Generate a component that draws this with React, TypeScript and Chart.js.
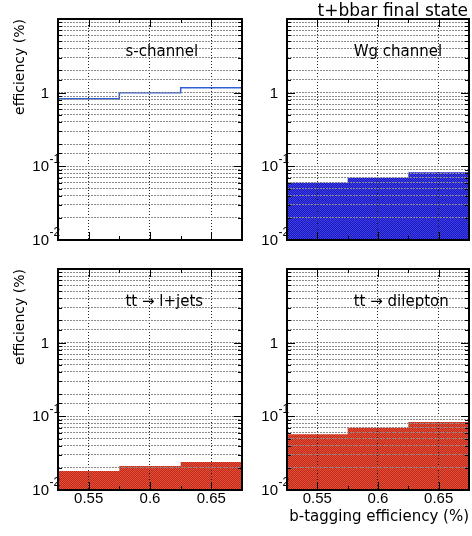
import React, { useEffect, useRef } from 'react';
import { Chart, registerables } from 'chart.js';

Chart.register(...registerables);

// ---- data ----
const binEdges = [0.525, 0.575, 0.625, 0.675];
const xTickValues = [0.55, 0.6, 0.65];
const xTickLabels = ['0.55', '0.6', '0.65'];
const xMinorTickValues = [0.575, 0.625];
const yLabelValues = [0.01, 0.1, 1];
const yLabelBases = ['10', '10', '1'];
const yLabelExponents = ['-2', '-1', ''];
const sChannelValues = [0.83, 1.0, 1.17];
const wgChannelValues = [0.06, 0.07, 0.083];
const lJetsValues = [0.0181, 0.0212, 0.024];
const dileptonValues = [0.057, 0.07, 0.0836];
const panelLabels = ['s-channel', 'Wg channel', 'tt \u2192 l+jets', 'tt \u2192 dilepton'];
const yTitle = 'efficiency (%)';
const xTitle = 'b-tagging efficiency (%)';
const mainTitle = 't+bbar final state';

const Y_MIN = 0.01;
const Y_MAX = 10;
const LABEL_X = 0.58;
const LABEL_Y = 3.5;

type Area = { left: number; top: number; right: number; bottom: number };
type PanelCfg = {
  left: number; top: number; width: number; height: number;
  area: Area;
  values: number[];
  filled: boolean;
  color: string; light: string;
  label: string;
  showYTitle: boolean; showXTicks: boolean; showXTitle: boolean; showMainTitle: boolean;
};

const panels: PanelCfg[] = [
  { left: 0, top: 0, width: 246, height: 262, area: { left: 58, top: 19, right: 242, bottom: 240 },
    values: sChannelValues, filled: false, color: '#2f5fd6', light: '#2f5fd6', label: panelLabels[0],
    showYTitle: true, showXTicks: false, showXTitle: false, showMainTitle: false },
  { left: 246, top: 0, width: 226, height: 262, area: { left: 41, top: 19, right: 223, bottom: 240 },
    values: wgChannelValues, filled: true, color: '#1818c4', light: '#4040e0', label: panelLabels[1],
    showYTitle: false, showXTicks: false, showXTitle: false, showMainTitle: true },
  { left: 0, top: 262, width: 246, height: 274, area: { left: 58, top: 7, right: 242, bottom: 228 },
    values: lJetsValues, filled: true, color: '#c42816', light: '#e0503a', label: panelLabels[2],
    showYTitle: true, showXTicks: true, showXTitle: false, showMainTitle: false },
  { left: 246, top: 262, width: 226, height: 274, area: { left: 41, top: 7, right: 223, bottom: 228 },
    values: dileptonValues, filled: true, color: '#c42816', light: '#e0503a', label: panelLabels[3],
    showYTitle: false, showXTicks: true, showXTitle: true, showMainTitle: false },
];

function makePattern(base: string, light: string): CanvasPattern | string {
  const c = document.createElement('canvas');
  c.width = 2; c.height = 2;
  const g = c.getContext('2d');
  if (!g) return base;
  g.fillStyle = base; g.fillRect(0, 0, 2, 2);
  g.fillStyle = light; g.fillRect(0, 0, 1, 1); g.fillRect(1, 1, 1, 1);
  return g.createPattern(c, 'repeat') || base;
}

function Panel({ cfg }: { cfg: PanelCfg }) {
  const ref = useRef<HTMLCanvasElement | null>(null);
  useEffect(() => {
    const canvas = ref.current;
    if (!canvas) return;
    const a = cfg.area;

    // histogram outline: one point per bin edge, the last edge repeats the last bin value
    const stepData = binEdges.map((e, i) => ({ x: e, y: cfg.values[Math.min(i, cfg.values.length - 1)] }));
    const dataset: any = cfg.filled
      ? {
          data: stepData, stepped: 'before', pointRadius: 0,
          borderWidth: 0, borderColor: cfg.color,
          backgroundColor: makePattern(cfg.color, cfg.light), fill: 'start',
        }
      : {
          data: stepData, stepped: 'before', pointRadius: 0,
          borderColor: cfg.color, borderWidth: 1.5, fill: false,
        };

    const decor = {
      id: 'panelDecor',
      afterDatasetsDraw(chart: any) {
        const { ctx, chartArea: ca } = chart;
        const xs = chart.scales.x, ys = chart.scales.y;
        xs.drawGrid(ca); ys.drawGrid(ca);
        ctx.save();
        ctx.strokeStyle = '#000';
        ctx.lineWidth = 1;
        ctx.setLineDash([]);
        const seg = (x1: number, y1: number, x2: number, y2: number) => {
          ctx.beginPath(); ctx.moveTo(x1, y1); ctx.lineTo(x2, y2); ctx.stroke();
        };
        const xTick = (v: number, len: number) => {
          const px = Math.round(xs.getPixelForValue(v)) + 0.5;
          seg(px, ca.bottom, px, ca.bottom - len);
          seg(px, ca.top, px, ca.top + len);
        };
        xTickValues.forEach(v => xTick(v, 8));
        xMinorTickValues.forEach(v => xTick(v, 4));
        for (const t of ys.ticks) {
          const lg = Math.log10(t.value);
          const major = Math.abs(lg - Math.round(lg)) < 1e-6;
          const len = major ? 8 : 4;
          const py = Math.round(ys.getPixelForValue(t.value)) + 0.5;
          seg(ca.left, py, ca.left + len, py);
          seg(ca.right, py, ca.right - len, py);
        }
        ctx.lineWidth = 2;
        ctx.strokeRect(ca.left, ca.top, ca.right - ca.left, ca.bottom - ca.top);
        ctx.restore();
      },
      afterDraw(chart: any) {
        const { ctx, chartArea: ca } = chart;
        const xs = chart.scales.x, ys = chart.scales.y;
        ctx.save();
        ctx.fillStyle = '#000';
        yLabelValues.forEach((v, i) => {
          const py = ys.getPixelForValue(v);
          const rx = ca.left - 9;
          ctx.font = '15px "Liberation Sans", Arial, sans-serif';
          ctx.textAlign = 'right';
          ctx.textBaseline = 'middle';
          ctx.fillText(yLabelBases[i], rx, py + 1);
          if (yLabelExponents[i]) {
            ctx.font = '12px "Liberation Sans", Arial, sans-serif';
            ctx.textAlign = 'left';
            ctx.fillText(yLabelExponents[i], rx + 0.5, py - 7);
          }
        });
        ctx.font = '15px "DejaVu Sans", sans-serif';
        ctx.textAlign = 'left';
        ctx.textBaseline = 'middle';
        ctx.fillText(cfg.label, xs.getPixelForValue(LABEL_X), ys.getPixelForValue(LABEL_Y));
        if (cfg.showMainTitle) {
          ctx.font = '17px "DejaVu Sans", sans-serif';
          ctx.textAlign = 'right';
          ctx.textBaseline = 'alphabetic';
          ctx.fillText(mainTitle, ca.right - 1, 16);
        }
        ctx.restore();
      },
    };

    const chart = new Chart(canvas, {
      type: 'line',
      data: { datasets: [dataset] },
      options: {
        animation: false,
        responsive: false,
        devicePixelRatio: 1,
        layout: { padding: { left: 0, top: a.top, right: cfg.width - a.right, bottom: 0 } },
        plugins: { legend: { display: false }, tooltip: { enabled: false }, title: { display: false } },
        scales: {
          x: {
            type: 'linear',
            min: binEdges[0],
            max: binEdges[binEdges.length - 1],
            offset: false,
            afterBuildTicks: (s: any) => { s.ticks = xTickValues.map(v => ({ value: v })); },
            afterFit: (s: any) => { s.height = cfg.height - a.bottom; },
            grid: { color: '#222', lineWidth: 1, drawTicks: false },
            border: { display: false, dash: [1, 2] },
            ticks: {
              display: cfg.showXTicks, padding: 0, maxRotation: 0, minRotation: 0, autoSkip: false,
              color: '#000', font: { family: '"Liberation Sans", Arial, sans-serif', size: 15 },
              callback: (v: any) => xTickLabels[xTickValues.indexOf(Number(v))] ?? '',
            },
            title: {
              display: cfg.showXTitle, text: xTitle, align: 'end', color: '#000',
              font: { family: '"DejaVu Sans", sans-serif', size: 15 }, padding: { top: 0, bottom: 10 },
            },
          },
          y: {
            type: 'logarithmic',
            min: Y_MIN,
            max: Y_MAX,
            afterFit: (s: any) => { s.width = a.left; },
            grid: { color: '#8a8a8a', lineWidth: 1, drawTicks: false },
            border: { display: false, dash: [2, 1] },
            ticks: { display: false },
            title: {
              display: cfg.showYTitle, text: yTitle, align: 'end', color: '#000',
              font: { family: '"DejaVu Sans", sans-serif', size: 14 }, padding: { top: 12, bottom: 0 },
            },
          },
        },
      } as any,
      plugins: [decor],
    });
    return () => chart.destroy();
  }, [cfg]);

  return (
    <canvas
      ref={ref}
      width={cfg.width}
      height={cfg.height}
      style={{ position: 'absolute', left: cfg.left, top: cfg.top, width: cfg.width, height: cfg.height }}
    />
  );
}

export default function App() {
  return (
    <div style={{ position: 'fixed', left: 0, top: 0, width: 472, height: 536, background: '#fff', overflow: 'hidden' }}>
      {panels.map((p, i) => <Panel key={i} cfg={p} />)}
    </div>
  );
}
